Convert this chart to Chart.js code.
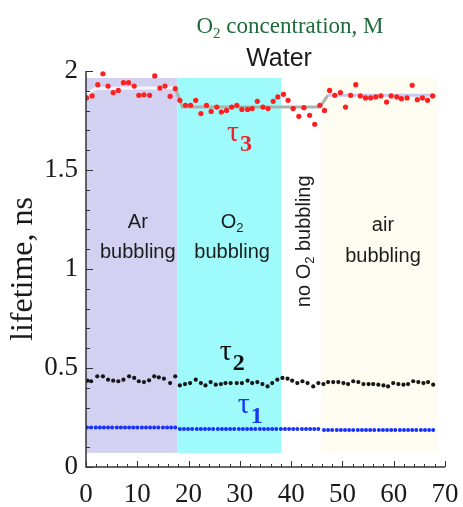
<!DOCTYPE html>
<html>
<head>
<meta charset="utf-8">
<script src="https://cdn.jsdelivr.net/npm/chart.js@4"></script>
<style>
  html, body { margin: 0; padding: 0; background: #fff; }
  #chart { display: block; }
</style>
</head>
<body>
<canvas id="chart" width="463" height="507"></canvas>
<script>
'use strict';

// tau3 (red) points
const tau3Time = [0.1, 1.2, 2.3, 3.3, 4.3, 5.3, 6.3, 7.3, 8.3, 9.4, 10.3, 11.3, 12.4, 13.4, 14.4, 15.4, 16.4, 17.4,
  18.3, 19.4, 20.4, 21.4, 22.4, 23.5, 24.4, 25.5, 26.4, 27.4, 28.4, 29.4, 30.4, 31.5, 32.4, 33.4, 34.5, 35.5, 36.5, 37.4, 38.5,
  39.4, 40.4, 41.5, 42.5, 43.6, 44.6, 45.6, 46.5,
  47.5, 48.5, 49.6, 50.6, 51.6, 52.6, 53.5, 54.5, 55.5, 56.5, 57.5, 58.6, 59.5, 60.6, 61.5, 62.6, 63.6, 64.6, 65.6, 66.6, 67.6];
const tau3 = [1.864, 1.874, 1.931, 1.986, 1.924, 1.891, 1.902, 1.941, 1.941, 1.924, 1.877, 1.880, 1.877, 1.975, 1.914, 1.924, 1.872, 1.911,
  1.852, 1.827, 1.827, 1.852, 1.785, 1.827, 1.796, 1.818, 1.793, 1.801, 1.818, 1.827, 1.806, 1.806, 1.810, 1.847, 1.818, 1.810, 1.847, 1.869, 1.882,
  1.852, 1.810, 1.771, 1.815, 1.776, 1.731, 1.827, 1.801,
  1.902, 1.877, 1.891, 1.818, 1.877, 1.931, 1.874, 1.864, 1.864, 1.869, 1.874, 1.843, 1.874, 1.869, 1.860, 1.864, 1.928, 1.855, 1.864, 1.852, 1.874];

// smoothed tau3 trend
const fitTime = [0, 2, 17.4, 18.8, 45.6, 47.2, 68];
const fitValues = [1.885, 1.912, 1.915, 1.818, 1.818, 1.878, 1.878];

// tau2 (black) points
const tau2Time = [0.3, 1.0, 2.2, 3.3, 4.3, 5.3, 6.3, 7.3, 8.4, 9.4, 10.3, 11.3, 12.3, 13.3, 14.2, 15.2, 16.4, 17.4,
  18.3, 19.3, 20.3, 21.4, 22.4, 23.3, 24.3, 25.3, 26.3, 27.2, 28.2, 29.4, 30.4, 31.5, 32.4, 33.4, 34.4, 35.4, 36.3, 37.3, 38.3,
  39.3, 40.2, 41.2, 42.2, 43.2, 44.3, 45.3, 46.3,
  47.2, 48.2, 49.2, 50.2, 51.1, 52.1, 53.1, 54.1, 55.1, 56.0, 57.0, 58.0, 58.9, 59.9, 60.9, 61.9, 62.8, 63.8, 64.8, 65.8, 66.7, 67.7];
const tau2 = [0.436, 0.433, 0.458, 0.458, 0.441, 0.436, 0.433, 0.441, 0.458, 0.450, 0.433, 0.429, 0.438, 0.458, 0.453, 0.446, 0.424, 0.458,
  0.412, 0.419, 0.424, 0.441, 0.424, 0.412, 0.429, 0.416, 0.419, 0.424, 0.424, 0.424, 0.424, 0.436, 0.424, 0.429, 0.419, 0.407, 0.424, 0.441, 0.450,
  0.446, 0.436, 0.424, 0.433, 0.424, 0.407, 0.424, 0.419,
  0.429, 0.429, 0.429, 0.424, 0.419, 0.433, 0.429, 0.419, 0.419, 0.419, 0.416, 0.412, 0.407, 0.424, 0.419, 0.416, 0.419, 0.433, 0.429, 0.424, 0.429, 0.416];

// tau1 (blue) points
const tau1Time = [0.2, 1.0, 1.9, 2.7, 3.5, 4.3, 5.1, 6.0, 6.8, 7.6, 8.4, 9.2, 10.0, 10.9, 11.7, 12.5, 13.3, 14.1, 15.0, 15.8, 16.6, 17.4,
  18.3, 19.1, 19.9, 20.7, 21.6, 22.4, 23.2, 24.0, 24.8, 25.7, 26.5, 27.3, 28.1, 28.9, 29.8, 30.6, 31.4, 32.2, 33.0, 33.9, 34.7,
  35.5, 36.3, 37.1, 38.0, 38.8, 39.6, 40.4, 41.2, 42.1, 42.9, 43.7, 44.5, 45.3,
  46.4, 47.2, 48.0, 48.9, 49.7, 50.5, 51.3, 52.1, 53.0, 53.8, 54.6, 55.4, 56.2, 57.1, 57.9, 58.7, 59.5, 60.3, 61.2, 62.0, 62.8,
  63.6, 64.4, 65.3, 66.1, 66.9, 67.7];
const tau1 = [0.200, 0.200, 0.200, 0.200, 0.200, 0.200, 0.200, 0.200, 0.200, 0.200, 0.200, 0.200, 0.200, 0.200, 0.200, 0.200, 0.200, 0.200, 0.200, 0.200, 0.200, 0.200,
  0.192, 0.192, 0.192, 0.192, 0.192, 0.192, 0.192, 0.192, 0.192, 0.192, 0.192, 0.192, 0.192, 0.192, 0.192, 0.192, 0.192, 0.192, 0.192, 0.192, 0.192,
  0.192, 0.192, 0.192, 0.192, 0.192, 0.192, 0.192, 0.192, 0.192, 0.192, 0.192, 0.192, 0.192,
  0.187, 0.187, 0.187, 0.187, 0.187, 0.187, 0.187, 0.187, 0.187, 0.187, 0.187, 0.187, 0.187, 0.187, 0.187, 0.187, 0.187, 0.187, 0.187, 0.187, 0.187,
  0.187, 0.187, 0.187, 0.187, 0.187, 0.187];

// shaded condition bands (x from/to, y from/to)
const bandStart = [0, 17.8, 45.9];
const bandEnd = [17.8, 38.1, 68.6];
const bandBottom = 0.071;
const bandTop = 1.965;
const bandColors = ['#d3d1f1', '#9ffbfb', '#fffdf1'];

const toPoints = (xs, ys) => xs.map((x, i) => ({ x, y: ys[i] }));

const serif = '"Liberation Serif", "Times New Roman", serif';
const sans = '"Liberation Sans", Arial, sans-serif';

// text with a lowered "2" after a prefix
function drawSubText(ctx, parts, x, y, size, family, align) {
  // parts: [[text, isSub], ...]
  let total = 0;
  const widths = parts.map(([t, sub]) => {
    ctx.font = `${sub ? Math.round(size * 0.65) : size}px ${family}`;
    const w = ctx.measureText(t).width;
    total += w;
    return w;
  });
  let cx = align === 'center' ? x - total / 2 : x;
  ctx.textAlign = 'left';
  ctx.textBaseline = 'alphabetic';
  parts.forEach(([t, sub], i) => {
    ctx.font = `${sub ? Math.round(size * 0.65) : size}px ${family}`;
    ctx.fillText(t, cx, sub ? y + size * 0.22 : y);
    cx += widths[i];
  });
}

const bandsPlugin = {
  id: 'bands',
  beforeDatasetsDraw(chart) {
    const { ctx, scales: { x, y } } = chart;
    ctx.save();
    bandStart.forEach((s, i) => {
      const x0 = x.getPixelForValue(s);
      const x1 = x.getPixelForValue(bandEnd[i]);
      const y0 = y.getPixelForValue(bandTop);
      const y1 = y.getPixelForValue(bandBottom);
      ctx.fillStyle = bandColors[i];
      ctx.fillRect(x0, y0, x1 - x0, y1 - y0);
    });

    ctx.fillStyle = '#1c1c1c';
    const px = v => x.getPixelForValue(v);
    const py = v => y.getPixelForValue(v);
    drawSubText(ctx, [['Ar', false]], px(10.1), py(1.207), 20, sans, 'center');
    drawSubText(ctx, [['bubbling', false]], px(10.1), py(1.056), 20, sans, 'center');
    drawSubText(ctx, [['O', false], ['2', true]], px(28.5), py(1.207), 20, sans, 'center');
    drawSubText(ctx, [['bubbling', false]], px(28.5), py(1.056), 20, sans, 'center');
    drawSubText(ctx, [['air', false]], px(57.9), py(1.19), 20, sans, 'center');
    drawSubText(ctx, [['bubbling', false]], px(57.9), py(1.035), 20, sans, 'center');

    // rotated label in the white gap
    ctx.save();
    ctx.translate(px(42.3) + 7, py(1.14));
    ctx.rotate(-Math.PI / 2);
    drawSubText(ctx, [['no O', false], ['2', true], [' bubbling', false]], 0, 0, 20, sans, 'center');
    ctx.restore();
    ctx.restore();
  }
};

const axesPlugin = {
  id: 'axesLines',
  afterDatasetsDraw(chart) {
    const { ctx, chartArea: a, scales: { x, y } } = chart;
    ctx.save();
    ctx.strokeStyle = '#333';
    ctx.lineWidth = 1.5;
    ctx.beginPath();
    ctx.moveTo(a.left, a.top);
    ctx.lineTo(a.left, a.bottom);
    ctx.lineTo(a.right, a.bottom);
    ctx.stroke();

    ctx.lineWidth = 1;
    ctx.beginPath();
    for (let i = 0; i <= 20; i++) {
      const p = Math.round(y.getPixelForValue(i / 10)) + 0.5;
      const len = i % 5 === 0 ? 7 : 4;
      ctx.moveTo(a.left, p);
      ctx.lineTo(a.left + len, p);
    }
    for (let i = 0; i <= 35; i++) {
      const p = Math.round(x.getPixelForValue(i * 2)) + 0.5;
      const len = i % 5 === 0 ? 6 : 3;
      ctx.moveTo(p, a.bottom);
      ctx.lineTo(p, a.bottom - len);
    }
    ctx.stroke();
    ctx.restore();
  }
};

const labelsPlugin = {
  id: 'labels',
  afterDraw(chart) {
    const { ctx, scales: { x, y } } = chart;
    ctx.save();
    // headings
    ctx.fillStyle = '#1d6b3c';
    drawSubText(ctx, [['O', false], ['2', true], [' concentration, M', false]], 290, 33, 23, serif, 'center');
    ctx.fillStyle = '#1a1a1a';
    drawSubText(ctx, [['Water', false]], 279, 66, 25, sans, 'center');

    // tau labels
    const taus = [
      { sub: '3', at: [27.5, 1.646], color: '#f0212b' },
      { sub: '2', at: [26.1, 0.540], color: '#111' },
      { sub: '1', at: [29.6, 0.273], color: '#1537f2' },
    ];
    taus.forEach(t => {
      const px = x.getPixelForValue(t.at[0]);
      const py = y.getPixelForValue(t.at[1]);
      ctx.fillStyle = t.color;
      ctx.textAlign = 'left';
      ctx.textBaseline = 'alphabetic';
      ctx.font = `30px ${serif}`;
      ctx.fillText('τ', px, py);
      ctx.font = `bold 24px ${serif}`;
      ctx.fillText(t.sub, px + 13, py + 10);
    });
    ctx.restore();
  }
};

new Chart(document.getElementById('chart'), {
  type: 'scatter',
  data: {
    datasets: [
      {
        label: 'tau3',
        data: toPoints(tau3Time, tau3),
        backgroundColor: '#ff1f1f',
        borderWidth: 0,
        pointRadius: 2.6,
        order: 1,
      },
      {
        label: 'tau2',
        data: toPoints(tau2Time, tau2),
        backgroundColor: '#151515',
        borderWidth: 0,
        pointRadius: 2.1,
        order: 1,
      },
      {
        label: 'tau1',
        data: toPoints(tau1Time, tau1),
        backgroundColor: '#1630ff',
        borderWidth: 0,
        pointRadius: 2,
        order: 1,
      },
      {
        label: 'trend',
        data: toPoints(fitTime, fitValues),
        showLine: true,
        pointRadius: 0,
        borderWidth: 3,
        borderColor: '#a9b3ad',
        segment: {
          borderColor: c => c.p0.parsed.x < 17 ? '#f6f6fd' : (c.p0.parsed.x < 46 ? '#a9b3ad' : '#c6c8f2'),
        },
        order: 5,
      },
    ],
  },
  options: {
    responsive: false,
    animation: false,
    events: [],
    layout: { padding: { top: 71, right: 18, left: 0, bottom: 0 } },
    plugins: {
      legend: { display: false },
      tooltip: { enabled: false },
    },
    scales: {
      x: {
        type: 'linear',
        min: 0,
        max: 70,
        afterFit: s => {
          s.height = 40;
          s.paddingLeft = 0;
          s.paddingRight = 0;
        },
        grid: { display: false, drawTicks: false },
        border: { display: false },
        ticks: {
          stepSize: 10,
          padding: 12,
          color: '#1a1a1a',
          font: { family: serif, size: 27 },
          callback: v => String(v),
        },
      },
      y: {
        min: 0,
        max: 2,
        afterFit: s => {
          s.width = 86;
          s.paddingTop = 0;
          s.paddingBottom = 0;
        },
        grid: { display: false, drawTicks: false },
        border: { display: false },
        title: {
          display: true,
          text: 'lifetime, ns',
          color: '#1a1a1a',
          font: { family: serif, size: 32 },
          padding: { top: 4, bottom: 4 },
        },
        ticks: {
          stepSize: 0.5,
          padding: 8,
          color: '#1a1a1a',
          font: { family: serif, size: 27 },
          callback: v => String(v),
        },
      },
    },
  },
  plugins: [bandsPlugin, axesPlugin, labelsPlugin],
});
</script>
</body>
</html>
